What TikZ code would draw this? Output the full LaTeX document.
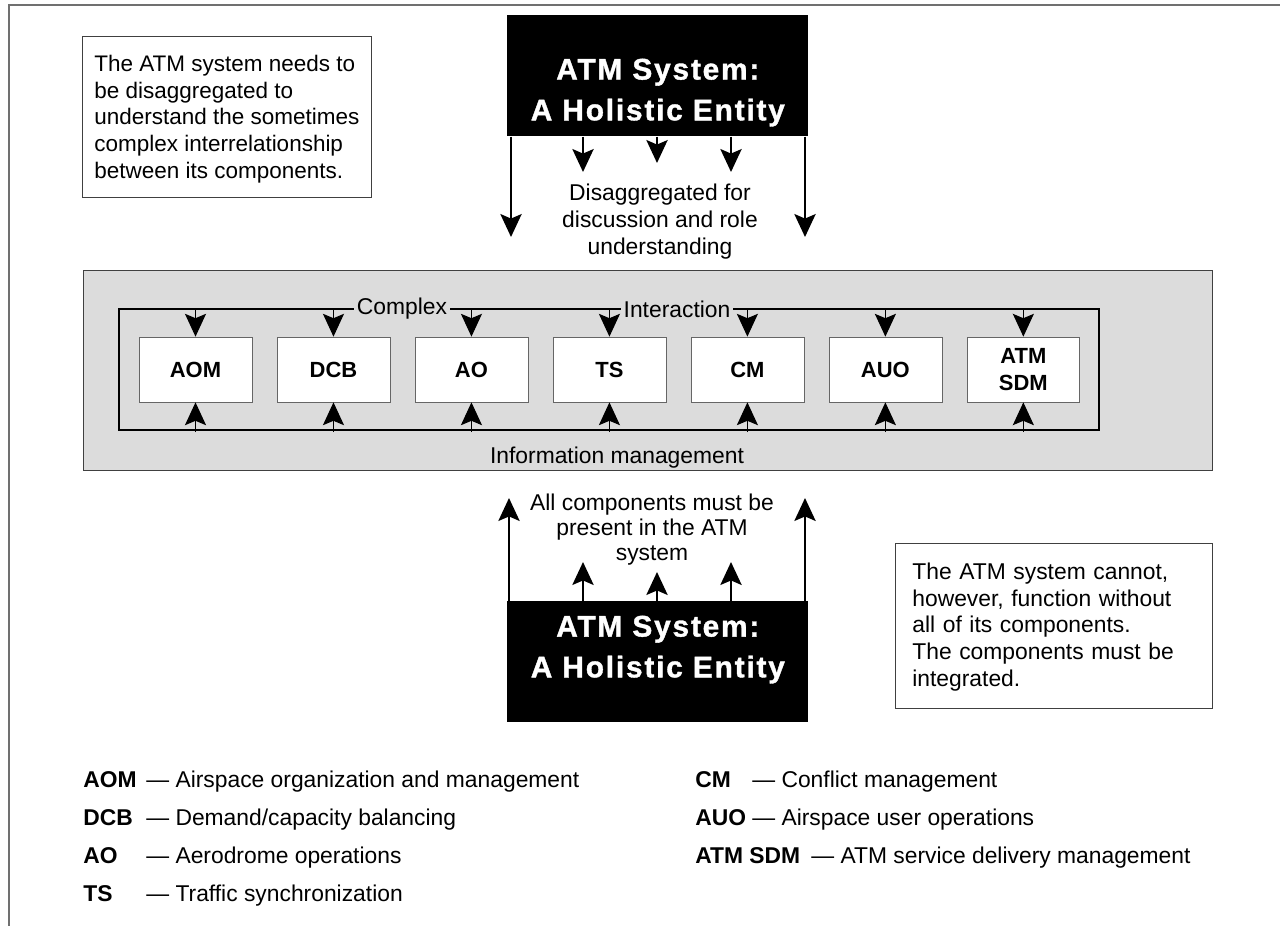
\documentclass[tikz,border=0pt]{standalone}
\usepackage{fontspec}
\setmainfont{Liberation Sans}
\newfontfamily\widefont[LetterSpace=6, FakeBold=1.2]{Liberation Sans Bold}
\usetikzlibrary{arrows.meta, positioning}
\definecolor{panel}{RGB}{220,220,220}
\definecolor{rim}{RGB}{64,64,64}

\begin{document}
\begin{tikzpicture}[x=0.02cm, y=-0.02cm, node distance=27.6mm,
		txt/.style = {inner sep=0pt, font=\fontsize{13}{15.2}\selectfont},
		whole/.style = {fill=black, text=white, inner sep=0pt, minimum width=6.02cm, align=center, font=\widefont\fontsize{17}{23.2}\selectfont},
		note/.style = {txt, draw=rim, inner ysep=0pt, align=left},
		comp/.style = {draw=rim!80, fill=white, minimum width=2.26cm, minimum height=1.3cm, inner sep=0pt, align=center, font=\bfseries\fontsize{12.5}{15.3}\selectfont},
		abbr/.style = {inner sep=0pt, anchor=base west, font=\bfseries\fontsize{13}{15}\selectfont},
		big/.style = {line width=1.6pt, -{Stealth[length=13pt, width=12pt, inset=2.5pt]}},
		small/.style = {line width=0.6pt, -{Stealth[length=13pt, width=12pt, inset=2.5pt]}}]
			\useasboundingbox (0,0) rectangle (1280,926);
			\draw[rim!75, line width=0.8pt] (1280,5) -- (9,5) -- (9,926);
			
			\node[whole, anchor=north west, text height=2.1cm, text depth=0.32cm] (hol1) at (507,15) {ATM System:\\A Holistic Entity};
			\node[note, anchor=north west, minimum width=5.78cm, inner xsep=0pt, text height=2.84cm, text depth=0.38cm, font=\fontsize{12.8}{15.2}\selectfont] (n1) at (82,36) {The ATM system needs to\\be disaggregated to\\understand the sometimes\\complex interrelationship\\between its components.};
			\node[txt, align=center, anchor=base, font=\fontsize{13}{15.3}\selectfont] (dis) at (660,254) {Disaggregated for\\discussion and role\\understanding};
			\foreach \x/\y [count=\i] in {511/237,583/172,657/163,731/172,805/237}
				\coordinate (d\i) at (\x,\y);
			\foreach \i in {1,...,5}
				\draw[big] (hol1.south -| d\i) -- (d\i);
			
			\draw[rim, fill=panel] (83,270) rectangle (1212,470);
			\draw[line width=0.6pt] (119,309) rectangle (1099,430);
			\node[txt, fill=panel, inner xsep=1.5pt] (cx) at (402,309) {Complex};
			\node[txt, fill=panel, inner xsep=1.5pt] (ia) at (677,309) {Interaction};
			\node[txt, anchor=base] (im) at (617,463) {Information management};
			
			\node[comp] (aom) at (195.5,369.5) {AOM};
			\node[comp, right of=aom] (dcb) {DCB};
			\node[comp, right of=dcb] (ao) {AO};
			\node[comp, right of=ao] (ts) {TS};
			\node[comp, right of=ts] (cm) {CM};
			\node[comp, right of=cm] (auo) {AUO};
			\node[comp, right of=auo] (sdm) {ATM\\SDM};
			\coordinate (up) at (0,309);
			\coordinate (lo) at (0,432);
			\foreach \c in {aom,dcb,ao,ts,cm,auo,sdm} {
				\draw[small] (up -| \c.north) -- (\c.north);
				\draw[small] (lo -| \c.south) -- (\c.south);
			}
			
			\node[txt, align=center, anchor=base, font=\fontsize{13}{14}\selectfont] (all) at (652,560) {All components must be\\present in the ATM\\system};
			\node[whole, anchor=north west, text height=1.52cm, text depth=0.9cm] (hol2) at (507,601) {ATM System:\\A Holistic Entity};
			\foreach \x/\y [count=\i] in {509/498,583/562,657/572,731/562,805/498}
				\coordinate (u\i) at (\x,\y);
			\foreach \i in {1,...,5}
				\draw[big] (hol2.north -| u\i) -- (u\i);
			\node[note, anchor=north west, text width=5.66cm, inner xsep=0.34cm, text height=0.72cm, text depth=2.58cm] (n2) at (895,543) {The ATM system cannot,\\however, function without\\all of its components.\\The components must be\\integrated.};
			
			\foreach \a/\t [count=\i] in {AOM/Airspace organization and management, DCB/{Demand/capacity balancing}, AO/Aerodrome operations, TS/Traffic synchronization} {
				\node[abbr] (k\i) at (83,{749+38*\i}) {\a};
				\node[txt, anchor=base west] (e\i) at (146,{749+38*\i}) {\textemdash\ \t};
			}
			\foreach \a/\x/\t [count=\i] in {CM/752/Conflict management, AUO/752/Airspace user operations, ATM SDM/811/ATM service delivery management} {
				\node[abbr] (r\i) at (695,{749+38*\i}) {\a};
				\node[txt, anchor=base west] (f\i) at (\x,{749+38*\i}) {\textemdash\ \t};
			}
		\end{tikzpicture}
\end{document}
